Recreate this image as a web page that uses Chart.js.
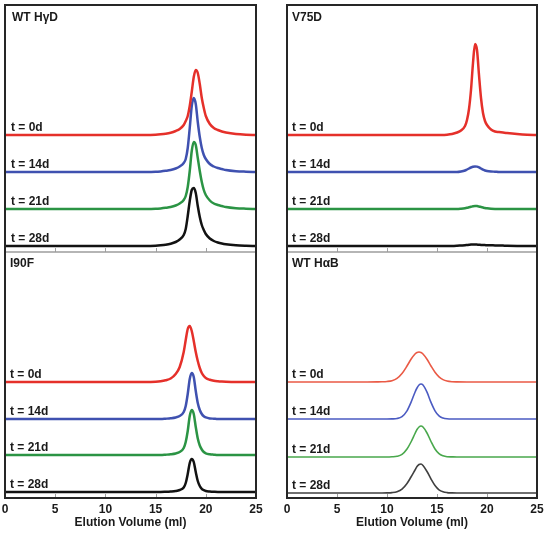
<!DOCTYPE html>
<html>
<head>
<meta charset="utf-8">
<script src="https://cdn.jsdelivr.net/npm/chart.js@4.4.1/dist/chart.umd.min.js"></script>
<style>
  html, body { margin: 0; padding: 0; background: #ffffff; }
  #wrap { position: relative; width: 549px; height: 533px; overflow: hidden; }
  canvas { position: absolute; }
</style>
</head>
<body>
<div id="wrap">
  <canvas id="cA" width="285" height="256" style="left:-10px;top:0px"></canvas>
  <canvas id="cB" width="274" height="256" style="left:275px;top:0px"></canvas>
  <canvas id="cC" width="285" height="281" style="left:-10px;top:252px"></canvas>
  <canvas id="cD" width="274" height="281" style="left:275px;top:252px"></canvas>
</div>
<script>
// ---------- DATA ----------
const panelTitles = ['WT H\u03B3D', 'V75D', 'I90F', 'WT H\u03B1B'];
const timeLabels = ['t = 0d', 't = 14d', 't = 21d', 't = 28d'];
const xTickValues = [0, 5, 10, 15, 20, 25];
const xAxisTitle = 'Elution Volume (ml)';

// elution volume sample points (ml)
const xGridHgD = [0,14,15,15.5,16,16.5,17,17.4,17.8,18.0,18.2,18.4,18.6,18.8,19.0,19.2,19.4,19.6,19.8,20.0,20.4,20.8,21.2,21.6,22,23,24,25];
const xGridV75D = xGridHgD;
const xGridI90F = xGridHgD;
const xGridHaB = [0,8,9,9.5,10,10.5,11,11.5,12,12.4,12.8,13.0,13.2,13.4,13.6,14.0,14.4,14.8,15.2,15.6,16,16.5,17,18,20,25];

// WT HγD signal (above each trace baseline)
const hgd_0d  = [0,0,0.3,0.7,1.3,2.3,4,6,10,14,19,29,43,58,65,62,51,37,27,19,11,7,5,3.5,2.5,1,0.3,0];
const hgd_14d = [0,0,0.2,0.6,1.2,2,3.5,5.5,9,13,24,44,66,74,68,50,35,24,17,13,8,5.5,4,3,2,0.8,0.3,0];
const hgd_21d = [0,0,0.2,0.6,1.2,2,3.5,5.5,9,13,22,38,58,67,64,51,38,27,19,14,8.5,5.5,4,3,2,0.8,0.3,0];
const hgd_28d = [0,0,0.3,0.7,1.3,2.3,4,6.5,11,17,30,45,56,58,53,40,29,21,16,12,7.5,5,3.5,2.5,1.8,0.8,0.3,0];

// V75D
const v75_0d  = [0,0,0,0,0.3,1,2.5,4.5,9,15,26,45,72,91,85,60,37,22,14,10,5.5,3.5,3,2.5,2,1,0.3,0];
const v75_14d = [0,0,0,0,0,0,0,0.5,1.5,2.5,3.5,4.5,5.3,5.6,5.4,4.6,3.5,2.4,1.5,1,0.5,0.3,0,0,0,0,0,0];
const v75_21d = [0,0,0,0,0,0,0,0.3,0.8,1.2,1.7,2.2,2.7,3,2.9,2.5,2,1.5,1,0.7,0.3,0.1,0,0,0,0,0,0];
const v75_28d = [0,0,0,0,0,0,0.2,0.5,0.8,1,1.2,1.4,1.5,1.5,1.4,1.3,1.1,1,0.9,0.8,0.7,0.6,0.5,0.4,0.3,0.1,0,0];

// I90F
const i90_0d  = [0,0,0.3,0.8,1.8,3.5,8,15,30,42,53,56,51,41,30,21,14,9,6,4,2.2,1.2,0.7,0.4,0.2,0,0,0];
const i90_14d = [0,0,0,0,0.3,0.7,1.5,3,7,13,25,40,46,42,28,16,9,5,2.7,1.6,0.6,0.3,0,0,0,0,0,0];
const i90_21d = [0,0,0,0,0.3,0.7,1.5,3,7,13,24,39,45,41,28,16.5,9.5,5.5,3,1.7,0.7,0.3,0,0,0,0,0,0];
const i90_28d = [0,0,0,0,0.2,0.5,1,2,4.5,9,18,29,33,30,20,11,6,3.2,1.9,1,0.5,0.2,0,0,0,0,0,0];

// WT HαB
const hab_0d  = [0,0,0.1,0.2,0.5,1.3,3.6,8.5,16,22.7,28,29.5,30,29.5,28,22.7,16,9.8,5.2,2.4,1,0.3,0.1,0,0,0];
const hab_14d = [0,0,0,0,0,0.1,0.5,2.4,8.2,16.6,26.8,31,34,35,34,26.8,16.6,8.2,3.1,1,0.2,0,0,0,0,0];
const hab_21d = [0,0,0,0,0,0.2,0.7,2.6,8,15,23.5,27.5,30,31,30,24,15.5,8,3.3,1.2,0.3,0.1,0,0,0,0];
const hab_28d = [0,0,0,0,0.1,0.4,1.3,3.8,9.5,16,23,26.5,28.5,29,27.5,21.5,14,7.5,3.2,1.2,0.4,0.1,0,0,0,0];

// vertical stacking offsets of each trace's baseline
const offsetsHgD  = [117, 80, 43, 6];
const offsetsV75D = [117, 80, 43, 6];
const offsetsI90F = [116, 79, 43, 6];
const offsetsHaB  = [116, 79, 41, 5];

// ---------- STYLE ----------
const colorsBold  = ['#e5302a', '#3f51b0', '#2b9444', '#121212'];
const colorsLight = ['#ea5a45', '#4b5bc2', '#49a84c', '#404040'];
const FONT = '"Liberation Sans", Arial, Helvetica, sans-serif';

const decor = {
  id: 'decor',
  afterDraw(chart, args, o) {
    const ctx = chart.ctx;
    const {left, right, top, bottom} = chart.chartArea;
    const xs = chart.scales.x, ys = chart.scales.y;
    ctx.save();
    // inward tick marks
    ctx.strokeStyle = '#a0a0a0';
    ctx.lineWidth = 1;
    xTickValues.slice(1, -1).forEach(v => {
      const px = Math.round(xs.getPixelForValue(v)) + 0.5;
      ctx.beginPath(); ctx.moveTo(px, bottom); ctx.lineTo(px, bottom - 4); ctx.stroke();
    });
    // bottom edge
    if (o.isTop) {
      ctx.strokeStyle = '#9c9c9c'; ctx.lineWidth = 1.5;
    } else {
      ctx.strokeStyle = '#262626'; ctx.lineWidth = 2;
    }
    ctx.beginPath(); ctx.moveTo(left - 1, bottom); ctx.lineTo(right + 1, bottom); ctx.stroke();
    // sides and top
    ctx.strokeStyle = '#262626'; ctx.lineWidth = 2;
    ctx.beginPath();
    ctx.moveTo(left, o.isTop ? top - 1 : top); ctx.lineTo(left, bottom + (o.isTop ? 0 : 1));
    ctx.moveTo(right, o.isTop ? top - 1 : top); ctx.lineTo(right, bottom + (o.isTop ? 0 : 1));
    if (o.isTop) { ctx.moveTo(left - 1, top); ctx.lineTo(right + 1, top); }
    ctx.stroke();
    // labels
    ctx.fillStyle = '#1a1a1a';
    ctx.font = 'bold 12px ' + FONT;
    ctx.textBaseline = 'alphabetic';
    ctx.textAlign = 'left';
    o.offsets.forEach((off, i) => {
      ctx.fillText(timeLabels[i], left + o.labelDx, ys.getPixelForValue(off) - 4);
    });
    ctx.fillText(o.title, left + o.titleDx, top + o.titleDy);
    ctx.restore();
  }
};

function makeChart(id, xs, series, offsets, colors, lw, cfg) {
  const datasets = series.map((vals, i) => ({
    data: xs.map((x, j) => ({x: x, y: offsets[i] + vals[j]})),
    borderColor: colors[i],
    borderWidth: lw,
    pointRadius: 0,
    fill: false,
    cubicInterpolationMode: 'monotone'
  }));
  return new Chart(document.getElementById(id), {
    type: 'line',
    data: {datasets},
    options: {
      responsive: false,
      animation: false,
      devicePixelRatio: 1,
      layout: {padding: cfg.padding},
      plugins: {
        legend: {display: false},
        tooltip: {enabled: false},
        decor: {isTop: cfg.isTop, offsets: offsets, title: cfg.title,
                labelDx: cfg.labelDx, titleDx: cfg.titleDx, titleDy: cfg.titleDy}
      },
      scales: {
        x: {
          type: 'linear', min: 0, max: 25,
          display: !cfg.isTop,
          afterBuildTicks: s => { s.ticks = xTickValues.map(v => ({value: v})); },
          ticks: {stepSize: 5, padding: 4, color: '#1a1a1a', font: {family: FONT, size: 12, weight: 'bold'}, maxRotation: 0},
          grid: {display: false, drawTicks: false},
          border: {display: false},
          title: {display: true, text: xAxisTitle, color: '#1a1a1a',
                  font: {family: FONT, size: 12, weight: 'bold'}, padding: {top: 0, bottom: 3}},
          afterFit: s => { s.height = cfg.isTop ? 0 : 35; }
        },
        y: {min: 0, max: cfg.ymax, display: false}
      }
    },
    plugins: [decor]
  });
}

makeChart('cA', xGridHgD, [hgd_0d, hgd_14d, hgd_21d, hgd_28d], offsetsHgD, colorsBold, 2.5,
  {isTop: true, ymax: 247, padding: {left: 15, right: 19, top: 5, bottom: 4}, title: panelTitles[0], labelDx: 6, titleDx: 7, titleDy: 16});
makeChart('cB', xGridV75D, [v75_0d, v75_14d, v75_21d, v75_28d], offsetsV75D, colorsBold, 2.5,
  {isTop: true, ymax: 247, padding: {left: 12, right: 12, top: 5, bottom: 4}, title: panelTitles[1], labelDx: 5, titleDx: 5, titleDy: 16});
makeChart('cC', xGridI90F, [i90_0d, i90_14d, i90_21d, i90_28d], offsetsI90F, colorsBold, 2.5,
  {isTop: false, ymax: 246, padding: {left: 15, right: 19, top: 0, bottom: 0}, title: panelTitles[2], labelDx: 5, titleDx: 5, titleDy: 15});
makeChart('cD', xGridHaB, [hab_0d, hab_14d, hab_21d, hab_28d], offsetsHaB, colorsLight, 1.6,
  {isTop: false, ymax: 246, padding: {left: 12, right: 12, top: 0, bottom: 0}, title: panelTitles[3], labelDx: 5, titleDx: 5, titleDy: 15});
</script>
</body>
</html>
